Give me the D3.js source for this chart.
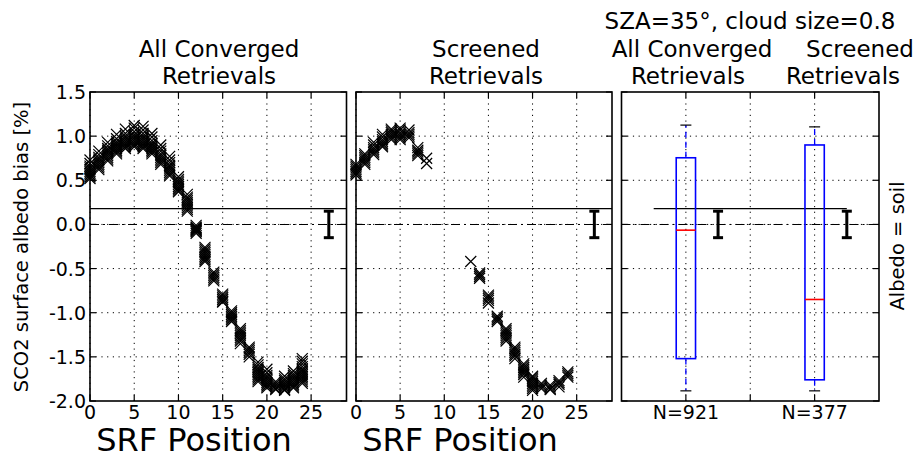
<!DOCTYPE html>
<html><head><meta charset="utf-8">
<script src="https://cdn.jsdelivr.net/npm/d3@7/dist/d3.min.js"></script>
<style>body{margin:0;background:#fff}svg{display:block}text{font-family:"DejaVu Sans",sans-serif;fill:#000}</style>
</head><body><svg id="c" width="919" height="453"></svg>
<script>
// ---------- data ----------
const positions = [0,1,2,3,4,5,6,7,8,9,10,11,12,13,14,15,16,17,18,19,20,21,22,23,24];
const allValues = [
  [0.52,0.54,0.56,0.58,0.60,0.62,0.64,0.66,0.69,0.73],
  [0.62,0.64,0.66,0.68,0.70,0.72,0.74,0.76,0.79,0.83],
  [0.72,0.74,0.76,0.78,0.80,0.82,0.84,0.86,0.89,0.93],
  [0.80,0.82,0.84,0.86,0.88,0.90,0.92,0.94,0.97,1.02],
  [0.86,0.88,0.90,0.92,0.94,0.96,0.98,1.00,1.03,1.08],
  [0.88,0.90,0.92,0.94,0.96,0.98,1.00,1.02,1.05,1.09,1.12],
  [0.86,0.88,0.90,0.92,0.94,0.96,0.98,1.00,1.03,1.07,1.11],
  [0.80,0.82,0.84,0.86,0.88,0.90,0.92,0.95,0.99,1.03],
  [0.68,0.70,0.72,0.74,0.76,0.78,0.80,0.83,0.86,0.90],
  [0.55,0.57,0.59,0.61,0.63,0.65,0.67,0.70,0.73,0.77],
  [0.37,0.39,0.41,0.43,0.45,0.47,0.49,0.51,0.54],
  [0.15,0.17,0.19,0.21,0.23,0.25,0.27,0.29,0.31,0.34],
  [-0.01,-0.03,-0.04,-0.05,-0.06,-0.07,-0.08,-0.10],
  [-0.26,-0.28,-0.30,-0.32,-0.34,-0.36,-0.38,-0.40,-0.42],
  [-0.54,-0.56,-0.58,-0.60,-0.62,-0.64],
  [-0.79,-0.81,-0.83,-0.85,-0.87,-0.88],
  [-0.98,-1.00,-1.02,-1.04,-1.06,-1.08,-1.10],
  [-1.18,-1.20,-1.22,-1.24,-1.26,-1.28,-1.30,-1.32,-1.35],
  [-1.39,-1.41,-1.43,-1.45,-1.47,-1.50],
  [-1.56,-1.59,-1.62,-1.64,-1.66,-1.68,-1.70,-1.72,-1.74,-1.76,-1.78],
  [-1.64,-1.68,-1.71,-1.73,-1.75,-1.77,-1.79,-1.81,-1.83,-1.85],
  [-1.78,-1.80,-1.82,-1.84,-1.86,-1.87],
  [-1.72,-1.75,-1.77,-1.79,-1.81,-1.83,-1.85,-1.87,-1.88],
  [-1.66,-1.69,-1.71,-1.73,-1.75,-1.77,-1.79,-1.81,-1.83,-1.85],
  [-1.52,-1.55,-1.58,-1.61,-1.64,-1.66,-1.68,-1.70,-1.72,-1.74,-1.76,-1.78,-1.80]
];
const screenedValues = [
  [0.56,0.58,0.60,0.62,0.64,0.66,0.68],
  [0.68,0.70,0.72,0.74,0.76,0.78,0.80],
  [0.79,0.81,0.83,0.85,0.87,0.90,0.93],
  [0.88,0.90,0.92,0.94,0.96,0.99,1.02],
  [0.96,0.98,1.00,1.02,1.04,1.06,1.08],
  [0.96,0.98,1.00,1.02,1.04,1.07,1.09],
  [0.98,1.00,1.02,1.04,1.07],
  [0.78,0.80,0.82,0.84,0.87],
  [0.69,0.75],
  [],[],[],[],
  [-0.42],
  [-0.55,-0.57,-0.59,-0.61],
  [-0.80,-0.82,-0.84,-0.86,-0.89],
  [-1.04,-1.06,-1.08,-1.10],
  [-1.18,-1.20,-1.22,-1.24,-1.26,-1.28,-1.30,-1.32],
  [-1.39,-1.41,-1.43,-1.45,-1.47,-1.49,-1.52],
  [-1.58,-1.60,-1.62,-1.64,-1.66,-1.68,-1.70,-1.73],
  [-1.72,-1.74,-1.76,-1.78,-1.80,-1.82,-1.84,-1.86,-1.88],
  [-1.80,-1.82,-1.84,-1.86],
  [-1.82,-1.84,-1.86,-1.87],
  [-1.77,-1.79,-1.81,-1.84],
  [-1.67,-1.69,-1.71,-1.73]
];
const xTicks = [0,5,10,15,20,25];
const yTicks = [-2.0,-1.5,-1.0,-0.5,0.0,0.5,1.0,1.5];
const refLine = 0.18;          // solid horizontal line
const errBarX = 27, errBarHalf = 0.15;
// box plot stats: [whiskerLow, q1, median, q3, whiskerHigh]
const boxLabels = ["N=921","N=377"];
const boxStats = [
  [-1.885,-1.52,-0.065,0.755,1.125],
  [-1.885,-1.76,-0.85,0.90,1.105]
];
const boxErrX = [1.25,2.25];
const boxRefLine = [0.75,2.25];

// ---------- layout ----------
const svg = d3.select("#c");
const yTop = 92, yBot = 401;
const y = d3.scaleLinear().domain([-2,1.5]).range([yBot, yTop]);
const x1 = d3.scaleLinear().domain([0,29]).range([90,346.5]);
const x2 = d3.scaleLinear().domain([0,29]).range([356,612]);
const x3 = d3.scaleLinear().domain([0.5,2.5]).range([621.5,879]);
const tickFont = 19;

function grid(g, x, xt) {
  xt.forEach(t => g.append("line").attr("x1",x(t)).attr("x2",x(t)).attr("y1",yTop).attr("y2",yBot)
    .attr("stroke","#000").attr("stroke-width",1).attr("stroke-dasharray","1.2,4.5"));
  yTicks.slice(1,-1).forEach(t => g.append("line").attr("x1",x.range()[0]).attr("x2",x.range()[1]).attr("y1",y(t)).attr("y2",y(t))
    .attr("stroke","#000").attr("stroke-width",1).attr("stroke-dasharray","1.2,4.5"));
}
function frame(g, x, xt, xLabels, yLabels) {
  const [l,r] = x.range();
  const tl = 6;
  xt.forEach(t => {
    g.append("line").attr("x1",x(t)).attr("x2",x(t)).attr("y1",yBot).attr("y2",yBot-tl).attr("stroke","#000").attr("stroke-width",1.2);
    g.append("line").attr("x1",x(t)).attr("x2",x(t)).attr("y1",yTop).attr("y2",yTop+tl).attr("stroke","#000").attr("stroke-width",1.2);
  });
  yTicks.forEach(t => {
    g.append("line").attr("x1",l).attr("x2",l+tl).attr("y1",y(t)).attr("y2",y(t)).attr("stroke","#000").attr("stroke-width",1.2);
    g.append("line").attr("x1",r).attr("x2",r-tl).attr("y1",y(t)).attr("y2",y(t)).attr("stroke","#000").attr("stroke-width",1.2);
  });
  g.append("rect").attr("x",l).attr("y",yTop).attr("width",r-l).attr("height",yBot-yTop)
    .attr("fill","none").attr("stroke","#000").attr("stroke-width",1.6);
  if (xLabels) xLabels.forEach(([t,s]) => g.append("text").attr("x",x(t)).attr("y",yBot+17.5)
    .attr("text-anchor","middle").attr("font-size",tickFont).text(s));
  if (yLabels) yTicks.forEach(t => g.append("text").attr("x",l-4).attr("y",y(t)+7)
    .attr("text-anchor","end").attr("font-size",tickFont).text(t.toFixed(1)));
}
function refs(g, x) {
  const [l,r] = x.range();
  g.append("line").attr("x1",l).attr("x2",r).attr("y1",y(0)).attr("y2",y(0))
    .attr("stroke","#000").attr("stroke-width",1.1).attr("stroke-dasharray","9,4,2,4");
}
function errBar(g, px) {
  g.append("line").attr("x1",px).attr("x2",px).attr("y1",y(errBarHalf)).attr("y2",y(-errBarHalf)).attr("stroke","#000").attr("stroke-width",3);
  [errBarHalf,-errBarHalf].forEach(v => g.append("line").attr("x1",px-5).attr("x2",px+5).attr("y1",y(v)).attr("y2",y(v)).attr("stroke","#000").attr("stroke-width",3));
}
function scatter(g, x, vals) {
  const pts = [];
  vals.forEach((arr,i) => arr.forEach(v => pts.push([positions[i], v])));
  g.selectAll("path.m").data(pts).join("path").attr("class","m")
    .attr("transform", d => `translate(${x(d[0])},${y(d[1])})`)
    .attr("d","M-5.5,-5.5L5.5,5.5M-5.5,5.5L5.5,-5.5").attr("stroke","#000").attr("stroke-width",1.2).attr("fill","none");
}

// Panel 1
const g1 = svg.append("g");
grid(g1, x1, xTicks);
refs(g1, x1);
g1.append("line").attr("x1",x1.range()[0]).attr("x2",x1.range()[1]).attr("y1",y(refLine)).attr("y2",y(refLine)).attr("stroke","#000").attr("stroke-width",1.3);
scatter(g1, x1, allValues);
errBar(g1, x1(errBarX));
frame(g1, x1, xTicks, xTicks.map(t=>[t,String(t)]), true);

// Panel 2
const g2 = svg.append("g");
grid(g2, x2, xTicks);
refs(g2, x2);
g2.append("line").attr("x1",x2.range()[0]).attr("x2",x2.range()[1]).attr("y1",y(refLine)).attr("y2",y(refLine)).attr("stroke","#000").attr("stroke-width",1.3);
scatter(g2, x2, screenedValues);
errBar(g2, x2(errBarX));
frame(g2, x2, xTicks, xTicks.map(t=>[t,String(t)]), false);

// Panel 3
const g3 = svg.append("g");
grid(g3, x3, [1,1.5,2]);
refs(g3, x3);
g3.append("line").attr("x1",x3(boxRefLine[0])).attr("x2",x3(boxRefLine[1])).attr("y1",y(refLine)).attr("y2",y(refLine)).attr("stroke","#000").attr("stroke-width",1.3);
const bw = 0.075;
boxStats.forEach((s,i) => {
  const c = i+1;
  g3.append("line").attr("x1",x3(c)).attr("x2",x3(c)).attr("y1",y(s[3])).attr("y2",y(s[4])).attr("stroke","#00f").attr("stroke-width",1.3).attr("stroke-dasharray","6,4");
  g3.append("line").attr("x1",x3(c)).attr("x2",x3(c)).attr("y1",y(s[1])).attr("y2",y(s[0])).attr("stroke","#00f").attr("stroke-width",1.3).attr("stroke-dasharray","6,4");
  [s[0],s[4]].forEach(v => g3.append("line").attr("x1",x3(c)-5.5).attr("x2",x3(c)+5.5).attr("y1",y(v)).attr("y2",y(v)).attr("stroke","#000").attr("stroke-width",1.2));
  g3.append("rect").attr("x",x3(c-bw)).attr("y",y(s[3])).attr("width",x3(c+bw)-x3(c-bw)).attr("height",y(s[1])-y(s[3]))
    .attr("fill","none").attr("stroke","#00f").attr("stroke-width",1.6);
  g3.append("line").attr("x1",x3(c-bw)).attr("x2",x3(c+bw)).attr("y1",y(s[2])).attr("y2",y(s[2])).attr("stroke","#f00").attr("stroke-width",1.6);
  errBar(g3, x3(boxErrX[i]));
});
frame(g3, x3, [1,1.5,2], [[1,boxLabels[0]],[2,boxLabels[1]]], false);

// titles & labels
function t(x, yy, s, size, anchor="middle") {
  return svg.append("text").attr("x",x).attr("y",yy).attr("text-anchor",anchor).attr("font-size",size).text(s);
}
const titleFont = 23;
t(219, 57, "All Converged", titleFont);
t(219, 84, "Retrievals", titleFont);
t(486, 57, "Screened", titleFont);
t(486, 84, "Retrievals", titleFont);
t(750, 29, "SZA=35°, cloud size=0.8", titleFont);
t(692, 57, "All Converged", titleFont);
t(860, 57, "Screened", titleFont);
t(688, 84, "Retrievals", titleFont);
t(843, 84, "Retrievals", titleFont);
t(194, 451, "SRF Position", 32);
t(460, 451, "SRF Position", 32);
svg.append("text").attr("transform","translate(28,247) rotate(-90)").attr("text-anchor","middle").attr("font-size",19.5).text("SCO2 surface albedo bias [%]");
svg.append("text").attr("transform","translate(904,246) rotate(-90)").attr("text-anchor","middle").attr("font-size",19.5).text("Albedo = soil");
</script></body></html>
